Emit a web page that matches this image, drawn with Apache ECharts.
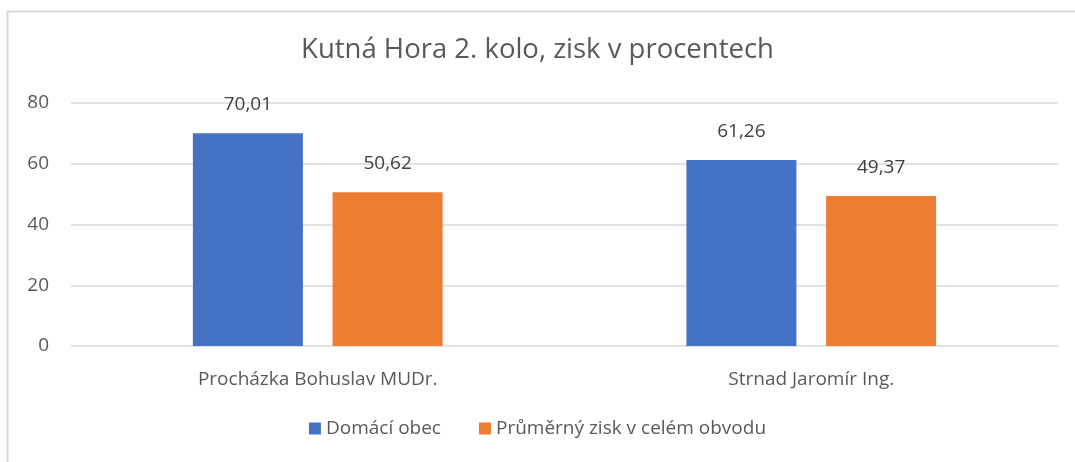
<!DOCTYPE html>
<html>
<head>
<meta charset="utf-8">
<script src="https://cdn.jsdelivr.net/npm/echarts@6/dist/echarts.min.js"></script>
<style>
  html, body { margin: 0; padding: 0; background: #fff; }
  #chart { width: 1075px; height: 462px; }
</style>
</head>
<body>
<div id="chart"></div>
<script>
const categories = ['Procházka Bohuslav MUDr.', 'Strnad Jaromír Ing.'];
const domaciObec = [70.01, 61.26];
const prumernyZisk = [50.62, 49.37];
const seriesNames = ['Domácí obec', 'Průměrný zisk v celém obvodu'];

const font = '"Open Sans", "Noto Sans", sans-serif';
const fmt = (p) => p.value.toFixed(2).replace('.', ',');

const chart = echarts.init(document.getElementById('chart'));

chart.setOption({
  animation: false,
  textStyle: { fontFamily: font },
  graphic: [{
    type: 'rect',
    shape: { x: 7.5, y: 11.5, width: 1100, height: 480 },
    style: { fill: 'none', stroke: '#d9d9d9', lineWidth: 2 },
    silent: true
  }],
  title: {
    text: 'Kutná Hora 2. kolo, zisk v procentech',
    left: 'center',
    top: 31,
    textStyle: { fontFamily: font, fontSize: 27.5, fontWeight: 'normal', color: '#595959' }
  },
  legend: {
    bottom: 19,
    left: 'center',
    itemWidth: 12,
    itemHeight: 12,
    itemGap: 38,
    icon: 'rect',
    textStyle: { fontFamily: font, fontSize: 19, color: '#595959' },
    data: seriesNames
  },
  grid: { left: 71, right: 17, top: 103, bottom: 116 },
  xAxis: {
    type: 'category',
    data: categories,
    axisLine: { show: false },
    axisTick: { show: false },
    axisLabel: { fontFamily: font, fontSize: 19, color: '#595959', margin: 24 }
  },
  yAxis: {
    type: 'value',
    min: 0,
    max: 80,
    interval: 20,
    axisLine: { show: false },
    axisTick: { show: false },
    axisLabel: { fontFamily: font, fontSize: 19, color: '#595959', margin: 22 },
    splitLine: { lineStyle: { color: '#d9d9d9', width: 1.5 } }
  },
  series: [
    {
      name: seriesNames[0],
      type: 'bar',
      data: domaciObec,
      barWidth: 110,
      barGap: '27%',
      itemStyle: { color: '#4472c4' },
      label: { show: true, position: 'top', distance: 19, formatter: fmt, fontFamily: font, fontSize: 19, color: '#404040' }
    },
    {
      name: seriesNames[1],
      type: 'bar',
      data: prumernyZisk,
      barWidth: 110,
      itemStyle: { color: '#ed7d31' },
      label: { show: true, position: 'top', distance: 19, formatter: fmt, fontFamily: font, fontSize: 19, color: '#404040' }
    }
  ]
});
</script>
</body>
</html>
